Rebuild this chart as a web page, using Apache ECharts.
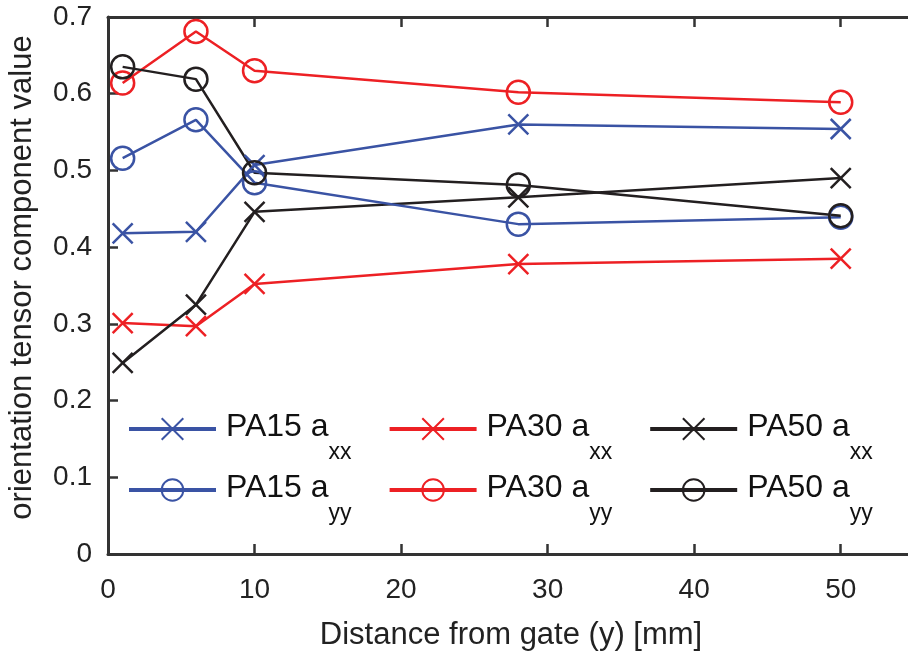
<!DOCTYPE html>
<html>
<head>
<meta charset="utf-8">
<script src="https://cdn.jsdelivr.net/npm/echarts@6/dist/echarts.min.js"></script>
<style>html,body{margin:0;padding:0;background:#fff}#c{width:908px;height:655px}</style>
</head>
<body>
<div id="c"></div>
<script>
// Data
const distance = [1, 6, 10, 28, 50];
const pa15_axx = [0.418, 0.420, 0.507, 0.560, 0.554];
const pa30_axx = [0.301, 0.297, 0.352, 0.378, 0.385];
const pa50_axx = [0.249, 0.325, 0.446, 0.465, 0.490];
const pa15_ayy = [0.516, 0.566, 0.484, 0.430, 0.439];
const pa30_ayy = [0.614, 0.681, 0.630, 0.602, 0.589];
const pa50_ayy = [0.635, 0.619, 0.497, 0.481, 0.441];
const xTicks = [0, 10, 20, 30, 40, 50];
const yTicks = [0, 0.1, 0.2, 0.3, 0.4, 0.5, 0.6, 0.7];

const FONT = 'Liberation Sans, Arial, sans-serif';
const BLUE = '#3a53a4', RED = '#ed2024', BLACK = '#231f20', AXIS = '#333333';
const CROSS = 'path://M0,0L10,10M10,0L0,10';

function pairs(ys) { return distance.map((x, i) => [x, ys[i]]); }
function mk(name, ys, color, sym) {
  return {
    name: name, type: 'line', data: pairs(ys),
    symbol: sym === 'x' ? CROSS : 'circle',
    symbolSize: sym === 'x' ? 20 : 23,
    showSymbol: true,
    lineStyle: { color: color, width: 2.5 },
    itemStyle: { color: 'transparent', borderColor: color, borderWidth: 2.5 },
    emphasis: { disabled: true },
    animation: false, z: 3
  };
}

const series = [
  mk('PA15 a_xx', pa15_axx, BLUE, 'x'),
  mk('PA30 a_xx', pa30_axx, RED, 'x'),
  mk('PA50 a_xx', pa50_axx, BLACK, 'x'),
  mk('PA15 a_yy', pa15_ayy, BLUE, 'o'),
  mk('PA30 a_yy', pa30_ayy, RED, 'o'),
  mk('PA50 a_yy', pa50_ayy, BLACK, 'o')
];

const legendText = {
  fontFamily: FONT, color: '#111',
  rich: {
    a: { fontSize: 32, fontFamily: FONT, color: '#111', lineHeight: 36, verticalAlign: 'top', padding: [0, 0, 0, 5] },
    s: { fontSize: 23, fontFamily: FONT, color: '#111', lineHeight: 23, verticalAlign: 'top', padding: [30, 0, 0, 0] }
  }
};
function legendFmt(n) { const p = n.split('_'); return '{a|' + p[0] + '}{s|' + p[1] + '}'; }
function legend(names, top) {
  return {
    data: names, left: 122, top: top, orient: 'horizontal',
    itemWidth: 87, itemHeight: 27, itemGap: 36, selectedMode: false,
    formatter: legendFmt, textStyle: legendText,
    lineStyle: { width: 4 }
  };
}

const axisLineStyle = { color: AXIS, width: 3 };
const option = {
  backgroundColor: '#fff',
  animation: false,
  grid: { left: 108, top: 17, width: 806, height: 537, containLabel: false, outerBoundsMode: 'none' },
  legend: [
    legend(['PA15 a_xx', 'PA30 a_xx', 'PA50 a_xx'], 406),
    legend(['PA15 a_yy', 'PA30 a_yy', 'PA50 a_yy'], 467)
  ],
  xAxis: [{
    type: 'value', min: 0, max: 55, interval: 10, position: 'bottom',
    name: 'Distance from gate (y) [mm]', nameLocation: 'middle', nameGap: 66,
    nameTextStyle: { fontFamily: FONT, fontSize: 31, color: '#222' },
    axisLine: { show: true, onZero: false, lineStyle: axisLineStyle },
    axisTick: { show: true, inside: true, length: 10, lineStyle: { color: AXIS, width: 2.5 } },
    axisLabel: { fontFamily: FONT, fontSize: 28, color: '#222', margin: 22, showMaxLabel: false,
      formatter: v => xTicks.indexOf(v) >= 0 ? String(v) : '' },
    splitLine: { show: false }
  }, {
    type: 'value', min: 0, max: 55, interval: 10, position: 'top',
    axisLine: { show: true, onZero: false, lineStyle: axisLineStyle },
    axisTick: { show: true, inside: true, length: 10, lineStyle: { color: AXIS, width: 2.5 } },
    axisLabel: { show: false }, splitLine: { show: false }
  }],
  yAxis: [{
    type: 'value', min: 0, max: 0.7, interval: 0.1, position: 'left',
    name: 'orientation tensor component value', nameLocation: 'middle', nameGap: 70, nameRotate: 90,
    nameTextStyle: { fontFamily: FONT, fontSize: 31, color: '#222', padding: [0, 0, 0, 16] },
    axisLine: { show: true, onZero: false, lineStyle: axisLineStyle },
    axisTick: { show: true, inside: true, length: 10, lineStyle: { color: AXIS, width: 2.5 } },
    axisLabel: { fontFamily: FONT, fontSize: 28, color: '#222', margin: 16,
      formatter: v => { const t = yTicks.find(k => Math.abs(k - v) < 1e-9); return t === undefined ? '' : (t === 0 ? '0' : t.toFixed(1)); } },
    splitLine: { show: false }
  }],
  series: series
};

const chart = echarts.init(document.getElementById('c'), null, { renderer: 'canvas' });
chart.setOption(option);
</script>
</body>
</html>
